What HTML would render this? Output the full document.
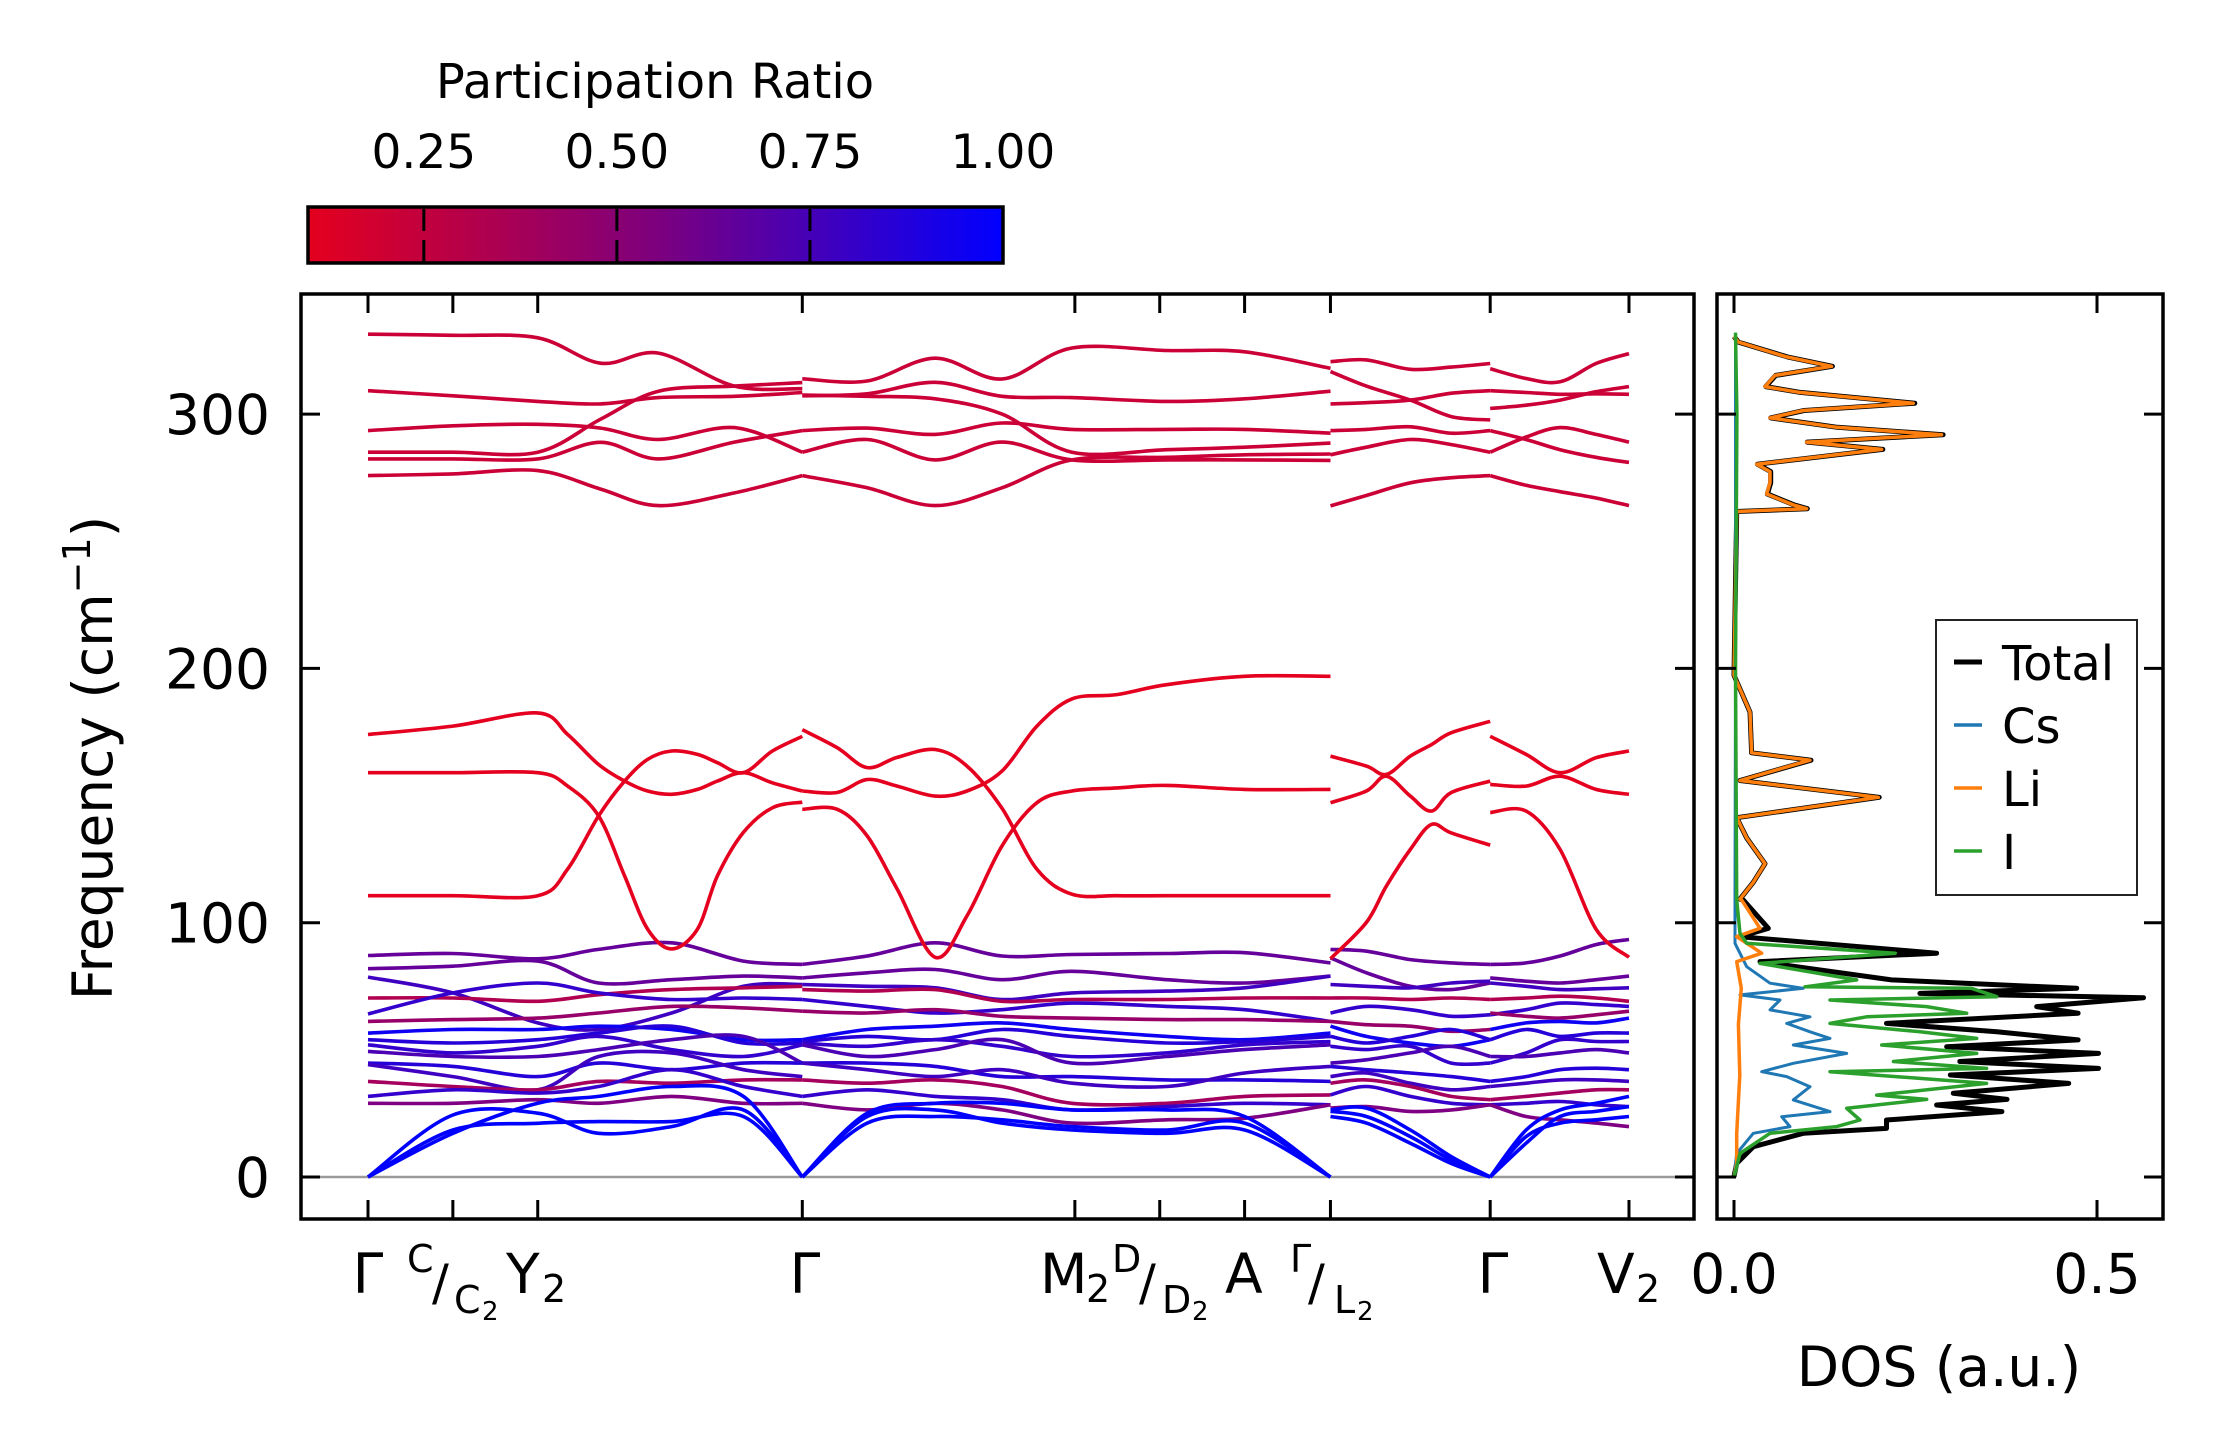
<!DOCTYPE html>
<html><head><meta charset="utf-8">
<style>
html,body{margin:0;padding:0;background:#fff;}
svg{display:block;font-family:"DejaVu Sans","Liberation Sans",sans-serif;}
</style></head>
<body>
<svg id="fig" width="2222" height="1455" viewBox="0 0 2222 1455" xmlns="http://www.w3.org/2000/svg">
<defs>
<linearGradient id="cbgrad" x1="0" x2="1" y1="0" y2="0">
<stop offset="0" stop-color="rgb(228,0,30)"/><stop offset="0.5" stop-color="rgb(125,0,125)"/><stop offset="1" stop-color="rgb(0,0,255)"/>
</linearGradient>
<clipPath id="clipMain"><rect x="301" y="294" width="1393" height="925"/></clipPath>
<clipPath id="clipDos"><rect x="1717" y="294" width="446" height="925"/></clipPath>
</defs>
<g>
<text x="655" y="98" font-size="48" text-anchor="middle">Participation Ratio</text>
<rect x="308" y="207" width="695" height="56" fill="url(#cbgrad)" stroke="#000" stroke-width="3.5"/>
<g id="cbticks"></g>
</g>
<g id="main">
<line x1="301" x2="1694" y1="1177" y2="1177" stroke="#999" stroke-width="2.5"/>
<g id="bands" clip-path="url(#clipMain)"></g>
<rect x="301" y="294" width="1393" height="925" fill="none" stroke="#000" stroke-width="3.5"/>
<g id="mainticks"></g>
<text transform="translate(112,758) rotate(-90)" font-size="55" text-anchor="middle">Frequency (cm<tspan font-size="38" dy="-22">−1</tspan><tspan dy="22">)</tspan></text>
<g font-size="55">
<text x="368" y="1293" text-anchor="middle">Γ</text>
<text x="407" y="1272" font-size="38">C</text>
<text x="432" y="1300" font-size="50">/</text>
<text x="454" y="1313" font-size="38">C</text>
<text x="482" y="1320" font-size="26">2</text>
<text x="506" y="1293">Y</text>
<text x="542" y="1302" font-size="38">2</text>
<text x="805" y="1293" text-anchor="middle">Γ</text>
<text x="1040" y="1293">M</text>
<text x="1086" y="1302" font-size="38">2</text>
<text x="1112" y="1272" font-size="38">D</text>
<text x="1139" y="1300" font-size="50">/</text>
<text x="1162" y="1313" font-size="38">D</text>
<text x="1192" y="1320" font-size="26">2</text>
<text x="1225" y="1293">A</text>
<text x="1290" y="1272" font-size="38">Γ</text>
<text x="1308" y="1300" font-size="50">/</text>
<text x="1334" y="1313" font-size="38">L</text>
<text x="1357" y="1320" font-size="26">2</text>
<text x="1493" y="1293" text-anchor="middle">Γ</text>
<text x="1597" y="1293">V</text>
<text x="1636" y="1302" font-size="38">2</text>
</g>
</g>
<g id="dospanel">
<g id="dos" clip-path="url(#clipDos)"></g>
<rect x="1717" y="294" width="446" height="925" fill="none" stroke="#000" stroke-width="3.5"/>
<g id="dosticks"></g>
<text x="1939" y="1386" font-size="55" text-anchor="middle">DOS (a.u.)</text>
<g>
<rect x="1936" y="620" width="201" height="275" fill="#fff" stroke="#222" stroke-width="2"/>
<line x1="1954" x2="1982" y1="662" y2="662" stroke="#000" stroke-width="5"/>
<text x="2002" y="680" font-size="48">Total</text>
<line x1="1954" x2="1982" y1="725" y2="725" stroke="#1f77b4" stroke-width="3.5"/>
<text x="2002" y="743" font-size="48">Cs</text>
<line x1="1954" x2="1982" y1="788" y2="788" stroke="#ff7f0e" stroke-width="3.5"/>
<text x="2002" y="806" font-size="48">Li</text>
<line x1="1954" x2="1982" y1="851" y2="851" stroke="#2ca02c" stroke-width="3.5"/>
<text x="2002" y="869" font-size="48">I</text>
</g>
</g>
</svg>
<script>
// ---- axis / tick data ----
const yTicks = [0, 100, 200, 300];
const kTicks = [0, 85, 170, 435, 708, 793, 878, 964, 1124, 1263];
const cbTicks = [0.25, 0.5, 0.75, 1.0];
const cbTickLabels = ["0.25", "0.50", "0.75", "1.00"];
const dosTicks = [0, 0.5];
const dosTickLabels = ["0.0", "0.5"];

// ---- k grids per segment ----
const kS1hi = [0, 85, 170, 233, 291, 367, 435];
const kS2hi = [435, 500, 568, 635, 705, 800, 878, 964];
const kS3 = [964, 1000, 1044, 1085, 1124];
const kS4 = [1124, 1160, 1194, 1230, 1263];
const kS1mid = [0, 85, 170, 200, 231, 257, 280, 304, 330, 350, 376, 405, 435];
const kS2mid = [435, 470, 500, 530, 568, 600, 635, 670, 705, 750, 800, 878, 964];
const kS3mid = [964, 1000, 1020, 1044, 1065, 1085, 1124];
const kS1lo = [0, 85, 170, 231, 304, 376, 435];
const kS2lo = [435, 500, 568, 635, 705, 800, 878, 964];

// ---- high-frequency bands (cm-1) ----
const hiS1 = [
 [331.4, 331, 330, 320, 324, 311, 310],
 [309.2, 307.2, 305, 304, 306.5, 307, 308.5],
 [293.5, 295.4, 296, 294.5, 290, 294.7, 285],
 [285, 285, 285, 298, 309, 311, 312.4],
 [282.4, 282.4, 282.4, 288.9, 282.4, 289, 293.5],
 [275.8, 276.5, 277.8, 270.5, 264, 269, 275.8]];
const hiS2 = [
 [313.9, 313, 322, 313.8, 326, 325, 324.5, 318],
 [307.2, 308, 312.5, 307, 306.5, 305, 306, 309],
 [307.5, 307, 306, 300, 285, 286, 287, 288.6],
 [293.5, 294.5, 292, 296.5, 294, 294, 294, 292.5],
 [285, 290, 282, 289, 282, 282, 282, 281.8],
 [275.8, 271, 264, 271, 282, 283, 284, 284.3]];
const hiS3 = [
 [320.6, 321.3, 317.6, 318.5, 319.9],
 [316.7, 311, 305.5, 299, 297.7],
 [304, 304.5, 305.5, 308.2, 309.2],
 [293.5, 294, 295, 292.5, 293.5],
 [284, 287, 290, 288, 285],
 [263.9, 268, 273, 275, 275.8]];
const hiS4 = [
 [317.8, 314, 312.7, 319.9, 323.8],
 [309.2, 308.5, 307.8, 308, 307.8],
 [302.2, 303.5, 305.5, 308.8, 310.8],
 [293.5, 290, 286, 283, 281],
 [285, 291, 294.7, 292, 289],
 [275.8, 272, 269.5, 267, 264]];

// ---- mid-frequency bands ----
const midS1 = [
 [174, 177.3, 182.5, 174, 162.2, 155.7, 151.8, 150.5, 152.4, 155.7, 159, 155, 151.8],
 [110.6, 110.6, 110.6, 121.1, 142, 155.7, 164.2, 167.5, 166.2, 162.9, 159, 167.5, 173.3],
 [159, 159, 159, 153.7, 142, 118.4, 97.5, 89.7, 97.5, 118.4, 135.5, 145.2, 147.4]];
const midS2 = [
 [175.9, 168.8, 161, 165, 168.1, 161.6, 145, 121, 111.2, 110.6, 110.6, 110.6, 110.6],
 [151.8, 151.2, 156.3, 153.7, 149.8, 151.8, 159.6, 177.3, 188, 189.7, 193.6, 196.9, 196.9],
 [144.6, 144.6, 134.1, 113.2, 86.4, 102.7, 130.2, 147.2, 151.8, 153, 154, 152.4, 152.4]];
const midS3 = [
 [165.5, 161.6, 158.3, 165.5, 170, 174.7, 179.2],
 [147.2, 151.8, 157.6, 149.8, 143.9, 151.2, 155.7],
 [85.8, 100.1, 114.4, 128.8, 138.6, 135.3, 130.5]];
const midS4 = [
 [173.3, 166.2, 159, 164.9, 167.5],
 [154.4, 153.7, 157.6, 152.4, 150.5],
 [143.3, 143.9, 128.8, 97.5, 86.4]];

// ---- low-frequency bands ----
const loS1 = [
 [87.1,87.9,85.8,89.5,92.1,84.9,83.6],[81.9,82.9,84.9,76.3,77.6,79,78.3],
 [78.6,72.4,60.6,58,64.5,75,75.7],[70.4,70.4,69.1,71.7,73.7,74.4,75],
 [64.1,72.4,76.3,72.4,69.8,70.4,69.8],[61.2,61.9,62.5,64.5,67.1,66.5,65.2],
 [56.6,58,58,59.3,58,54,54],[54,52.7,54,56.6,59.3,52.7,52.7],
 [52,48.8,51.4,55.3,50.1,47.4,52],[49.4,47.4,47.4,50.1,54,55.3,44.8],
 [44.8,43.5,39.5,44.8,42.2,44.8,44.8],[44.2,39.5,34.3,47.4,48.8,42.2,39.5],
 [37.6,35.6,34.3,37.6,36.9,38.2,38.2],[31.7,34.3,33,35.6,42.2,35.6,31.7],
 [29,29,30.4,29,31.7,29,29],
 [0,24.4,25.1,17.2,19.8,26.4,0],[0,18.5,21.1,21.8,21.8,23.8,0],[0,17.2,29,31.7,35.6,31.7,0]];
const loS2 = [
 [83.6,86.9,92.1,86.9,87.5,87.9,88.2,84.2],[78.3,80.3,81.6,77.6,80.9,77.6,76.3,79],
 [75.7,75,74.4,69.8,72.4,73.1,74.4,79],[73.7,73.1,73.7,69.1,69.8,69.8,70.4,70.4],
 [69.8,67.1,64.5,65.8,68.4,67.1,65.8,61.2],[65.2,64.5,65.8,63.2,62.5,61.9,61.9,61.2],
 [54,58,59.3,60.6,58,55.3,54,56.6],[53.3,55.3,54,58,55.3,52.7,53.3,55.3],
 [52.7,51.4,54,51.4,47.4,48.8,52,53.3],[52,47.4,50.1,54,44.8,47.4,50.1,52],
 [44.8,44.8,43.5,39.5,39.5,38.2,38.2,37.6],[44.8,42.2,39.5,42.2,36.9,35.6,40.9,43.5],
 [38.2,36.9,38.2,35.6,29,29,31.7,32.3],[31.7,34.3,31.7,30.4,26.4,27.7,29,28.4],
 [29,26.4,29,26.4,21.2,22.5,23.1,28.4],
 [0,23.8,26.4,21.2,18.5,17.2,18.5,0],[0,21.2,23.8,22.5,19.8,18.5,21.2,0],[0,25.1,29,29,26.4,26.4,23.8,0]];
const loS3 = [
 [89.5,88.8,85.5,84.2,83.6],[86.2,80.3,75,73.7,76.3],[75.7,75,74.4,76.3,77],
 [70.4,70.4,69.8,70.4,69.8],[64.5,67.1,65.8,63.2,63.8],[61.2,59.9,59.3,57.3,58],
 [59.3,55.3,52.7,51.4,54],[55.3,52.7,55.3,58,54],[51.4,50.1,51.4,44.8,44.8],
 [44.8,46.1,48.8,51.4,47.4],[43.5,42.2,40.9,39.5,37.6],[39.5,40.9,36.9,34.3,35.6],
 [36.9,38.2,35.6,31.7,30.4],[32.3,35.6,31.7,29,28.4],[27.1,27.7,25.8,26.4,28.4],
 [26.4,27.1,18.5,8,0],[23.8,21.2,13.3,5.3,0],[25.8,23.8,15.9,6.6,0]];
const loS4 = [
 [83.6,84.2,86.9,91.4,93.4],[78.3,77,76.3,77.6,79],[76.3,75,73.7,74,74.4],
 [69.8,70.4,71.1,70.4,69.1],[63.8,65.8,68.4,67.8,67.1],[64.5,63.2,62.5,63.8,65.2],
 [58,60.6,61.2,60.6,62.5],[54,58,55.3,56.6,56.6],[44.8,48.8,54,53.3,53.3],
 [47.4,47.4,48.8,50.1,48.8],[37.6,39.5,42.2,42.8,42.2],[35.6,36.9,38.2,38.2,37.6],
 [30.4,31.7,33,34.3,34.3],[28.4,29,29.7,28.4,27.7],[28.4,23.8,22.5,21.2,19.8],
 [0,13.3,23.8,25.8,27.7],[0,15.9,21.2,22.5,23.8],[0,18.5,26.4,29,31.7]];

// participation ratios
const hiPR = 0.2;
const midPR = 0.1;
const loPR = [0.6,0.6,0.75,0.3,0.8,0.4,0.95,0.85,0.8,0.7,0.85,0.75,0.35,0.8,0.5,1,1,1];

// ---- DOS data ----
const totF = [0.1,5.4,11.9,17.2,19.1,22.4,25.7,28.3,30.5,32.9,36.8,40.1,42.7,45.4,48.6,51.2,53.9,57.1,60.4,64.4,67.0,70.5,72.2,74.2,77.5,84.7,88.0,94.5,97.8,108.9,109.3,115.9,123.2,133.3,141.3,149.3,155.9,163.9,166.8,182.8,197.3,261.7,262.8,264.3,268.6,273,277.4,280.3,286.1,289,291.9,294.8,298.5,301.4,304.3,308.6,310.8,315.2,318.8,322.5,328.3,330.5];
const totD = [0,.0037,.0266,.0955,.210,.210,.369,.279,.376,.302,.461,.298,.502,.311,.502,.293,.474,.362,.210,.474,.417,.564,.256,.472,.217,.0358,.279,.0083,.0473,.0129,.0083,.0266,.0427,.0175,.0037,.2,.0083,.106,.0243,.0221,0,.0037,.101,.083,.046,.0506,.0506,.0322,.205,.101,.288,.1424,.0506,.0965,.249,.0896,.0437,.0575,.1355,.0736,.006,0];
const liF = [0,5.4,17.2,40,60,74.2,84.7,88.0,94.5,97.8,108.9,109.3,115.9,123.2,133.3,141.3,149.3,155.9,163.9,166.8,182.8,197.3,261.7,262.8,264.3,268.6,273,277.4,280.3,286.1,289,291.9,294.8,298.5,301.4,304.3,308.6,310.8,315.2,318.8,322.5,328.3,330.5];
const liD = [0,.0037,.0037,.008,.006,.01,.0037,.0381,.0037,.0358,.0106,.0083,.0266,.0427,.0175,.0037,.1988,.0083,.1047,.0243,.0221,0,.0037,.1001,.0817,.045,.0496,.0496,.0312,.2034,.1001,.286,.1414,.0496,.0955,.247,.0886,.0427,.0565,.1345,.0726,.006,0];
const iF = [0,9.3,17.2,19.8,22.4,27.0,30.5,32.2,36.8,41.4,42.7,45.4,48.6,51.9,54.5,57.1,60.4,63.0,64.4,67.0,69.6,70.9,74.2,74.8,77.5,84.0,88.0,91.9,95.8,108.9,200,300,332];
const iD = [0,.0083,.0496,.1414,.1736,.1552,.2654,.1965,.348,.1322,.348,.2195,.3343,.2034,.3343,.2562,.1322,.1827,.3205,.2654,.1322,.362,.327,.0978,.169,.0358,.222,.0175,.0083,.0037,.002,.004,.002];
const csF = [0,9.3,17.2,19.8,23.7,25.7,30.3,35.5,39.5,41.4,44.7,48.6,51.9,54.5,57.1,60.4,63.0,65.7,69.6,71.6,74.2,76.2,82.7,91.9,108.9,200,332];
const csD = [0,.0037,.0266,.0772,.0657,.1322,.0817,.1047,.0726,.0381,.0817,.1552,.0817,.1322,.1047,.0726,.1047,.0496,.0634,.0083,.0955,.0496,.0175,.0014,.0014,.002,.002];

// ---- axis functions ----
const NS = "http://www.w3.org/2000/svg";
function xK(k){ return 368 + k * 0.9984; }
function yF(f){ return 1177 - f * 2.543; }
function xD(d){ return 1734 + d * 726; }
function xCB(v){ return 308 + (v - 0.1) / 0.9 * 695; }
function cmap(v){
  const t = Math.max(0, Math.min(1, (v - 0.1) / 0.9));
  return "rgb(" + Math.round(228 * (1 - t)) + ",0," + Math.round(30 + 225 * t) + ")";
}
function mk(tag, attrs, parent){
  const el = document.createElementNS(NS, tag);
  for (const a in attrs) el.setAttribute(a, attrs[a]);
  parent.appendChild(el);
  return el;
}
function smoothPath(pts){
  let d = "M" + pts[0][0].toFixed(1) + "," + pts[0][1].toFixed(1);
  for (let i = 0; i < pts.length - 1; i++){
    const p0 = pts[Math.max(0, i - 1)], p1 = pts[i], p2 = pts[i + 1], p3 = pts[Math.min(pts.length - 1, i + 2)];
    const c1 = [p1[0] + (p2[0] - p0[0]) / 6, p1[1] + (p2[1] - p0[1]) / 6];
    const c2 = [p2[0] - (p3[0] - p1[0]) / 6, p2[1] - (p3[1] - p1[1]) / 6];
    d += " C" + c1[0].toFixed(1) + "," + c1[1].toFixed(1) + " " + c2[0].toFixed(1) + "," + c2[1].toFixed(1) + " " + p2[0].toFixed(1) + "," + p2[1].toFixed(1);
  }
  return d;
}

// ---- bands ----
const bandsG = document.getElementById("bands");
function drawBands(grid, set, prs, name){
  set.forEach((vals, i) => {
    const pts = grid.map((k, j) => [xK(k), yF(vals[j])]);
    const pr = Array.isArray(prs) ? prs[i] : prs;
    const p = mk("path", {d: smoothPath(pts), fill: "none", stroke: cmap(pr), "stroke-width": 3.6, "stroke-linecap": "butt"}, bandsG);
    
    
  });
}
drawBands(kS1lo, loS1, loPR, "low-band-s1");
drawBands(kS2lo, loS2, loPR, "low-band-s2");
drawBands(kS3, loS3, loPR, "low-band-s3");
drawBands(kS4, loS4, loPR, "low-band-s4");
drawBands(kS1mid, midS1, midPR, "mid-band-s1");
drawBands(kS2mid, midS2, midPR, "mid-band-s2");
drawBands(kS3mid, midS3, midPR, "mid-band-s3");
drawBands(kS4, midS4, midPR, "mid-band-s4");
drawBands(kS1hi, hiS1, hiPR, "high-band-s1");
drawBands(kS2hi, hiS2, hiPR, "high-band-s2");
drawBands(kS3, hiS3, hiPR, "high-band-s3");
drawBands(kS4, hiS4, hiPR, "high-band-s4");

// ---- main ticks ----
const mt = document.getElementById("mainticks");
yTicks.forEach(v => {
  const y = yF(v);
  const t1 = mk("line", {x1: 301, x2: 320, y1: y, y2: y, stroke: "#000", "stroke-width": 3}, mt);
  
  
  const t2 = mk("line", {x1: 1675, x2: 1694, y1: y, y2: y, stroke: "#000", "stroke-width": 3}, mt);
  
  
  const lb = mk("text", {x: 270, y: y + 20, "font-size": 55, "text-anchor": "end"}, mt);
  lb.textContent = String(v);
  
  
});
kTicks.forEach(k => {
  const x = xK(k);
  const t1 = mk("line", {x1: x, x2: x, y1: 1219, y2: 1200, stroke: "#000", "stroke-width": 3}, mt);
  
  
  const t2 = mk("line", {x1: x, x2: x, y1: 294, y2: 313, stroke: "#000", "stroke-width": 3}, mt);
  
  
});

// ---- colorbar ticks ----
const cbt = document.getElementById("cbticks");
cbTicks.forEach((v, i) => {
  const x = xCB(v);
  if (v < 1){
    const a = mk("line", {x1: x, x2: x, y1: 209, y2: 231, stroke: "#000", "stroke-width": 3}, cbt);
    
    
    const b = mk("line", {x1: x, x2: x, y1: 240, y2: 262, stroke: "#000", "stroke-width": 3}, cbt);
    
    
  }
  const lb = mk("text", {x: x, y: 168, "font-size": 47, "text-anchor": "middle"}, cbt);
  lb.textContent = cbTickLabels[i];
  
  
});

// ---- DOS ----
const dosG = document.getElementById("dos");
function drawDos(F, D, color, w, name){
  const pts = F.map((f, i) => xD(D[i]).toFixed(1) + "," + yF(f).toFixed(1)).join(" ");
  const p = mk("polyline", {points: pts, fill: "none", stroke: color, "stroke-width": w, "stroke-linejoin": "round"}, dosG);
  
  
}
drawDos(totF, totD, "#000", 5, "dos-total-line");
drawDos(csF, csD, "#1f77b4", 3, "dos-cs-line");
drawDos(liF, liD, "#ff7f0e", 3.5, "dos-li-line");
drawDos(iF, iD, "#2ca02c", 3.5, "dos-i-line");

const dt = document.getElementById("dosticks");
yTicks.forEach(v => {
  const y = yF(v);
  const a = mk("line", {x1: 1717, x2: 1736, y1: y, y2: y, stroke: "#000", "stroke-width": 3}, dt);
  
  
  const b = mk("line", {x1: 2144, x2: 2163, y1: y, y2: y, stroke: "#000", "stroke-width": 3}, dt);
  
  
});
dosTicks.forEach((v, i) => {
  const x = xD(v);
  const a = mk("line", {x1: x, x2: x, y1: 1219, y2: 1200, stroke: "#000", "stroke-width": 3}, dt);
  
  
  const b = mk("line", {x1: x, x2: x, y1: 294, y2: 313, stroke: "#000", "stroke-width": 3}, dt);
  
  
  const lb = mk("text", {x: x, y: 1293, "font-size": 55, "text-anchor": "middle"}, dt);
  lb.textContent = dosTickLabels[i];
  
  
});
</script>
</body></html>
